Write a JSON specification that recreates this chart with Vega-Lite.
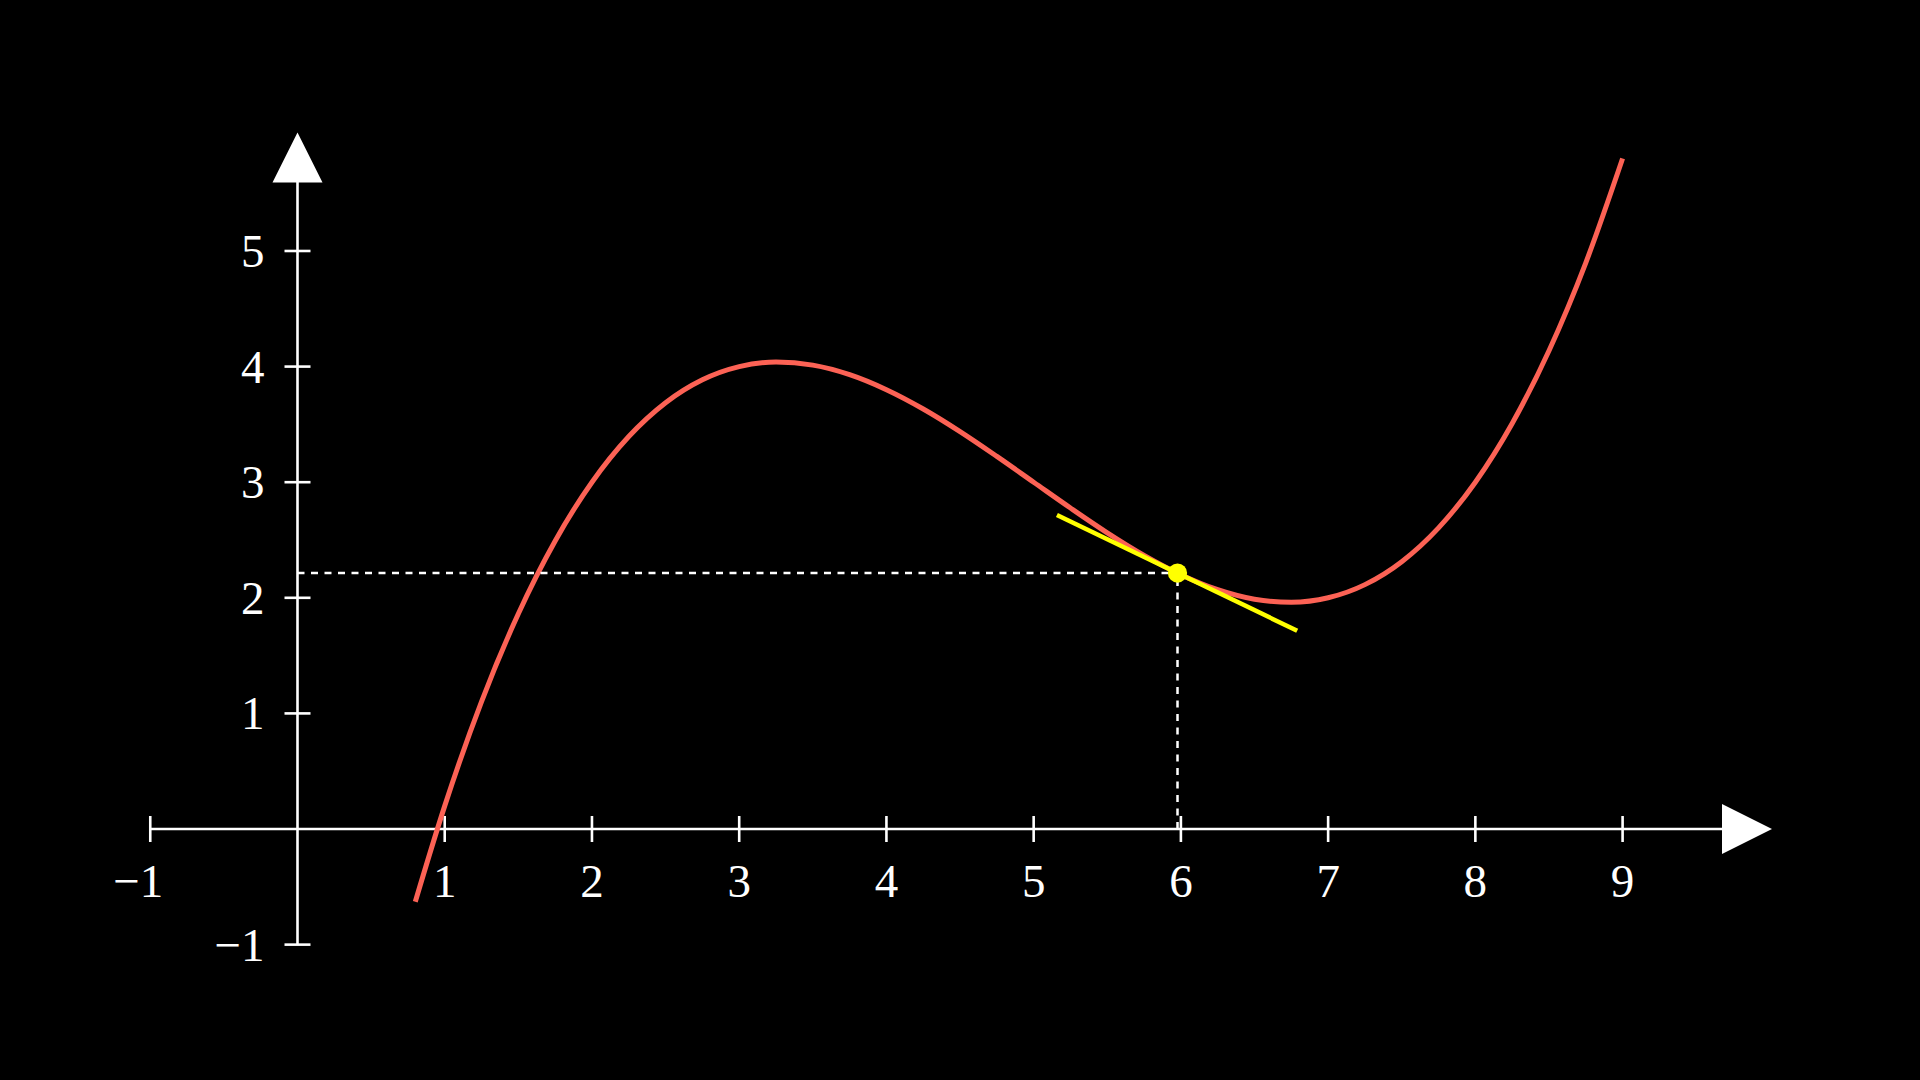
{
  "$schema": "https://vega.github.io/schema/vega-lite/v6.json",
  "width": 1920,
  "height": 1080,
  "padding": 0,
  "autosize": {"type": "none"},
  "background": "#000000",
  "config": {"view": {"stroke": null}},
  "datasets": {
    "curve": [
      {"x": 0.8, "y": -0.629}, {"x": 1.0, "y": 0.2}, {"x": 1.25, "y": 1.102}, {"x": 1.5, "y": 1.8625},
      {"x": 1.75, "y": 2.492}, {"x": 2.0, "y": 3.0}, {"x": 2.25, "y": 3.395}, {"x": 2.5, "y": 3.6875},
      {"x": 2.75, "y": 3.886}, {"x": 3.0, "y": 4.0}, {"x": 3.25, "y": 4.039}, {"x": 3.5, "y": 4.0125},
      {"x": 3.75, "y": 3.930}, {"x": 4.0, "y": 3.8}, {"x": 4.25, "y": 3.633}, {"x": 4.5, "y": 3.4375},
      {"x": 4.75, "y": 3.223}, {"x": 5.0, "y": 3.0}, {"x": 5.25, "y": 2.777}, {"x": 5.5, "y": 2.5625},
      {"x": 5.75, "y": 2.367}, {"x": 6.0, "y": 2.2}, {"x": 6.25, "y": 2.070}, {"x": 6.5, "y": 1.9875},
      {"x": 6.75, "y": 1.961}, {"x": 7.0, "y": 2.0}, {"x": 7.25, "y": 2.114}, {"x": 7.5, "y": 2.3125},
      {"x": 7.75, "y": 2.605}, {"x": 8.0, "y": 3.0}, {"x": 8.25, "y": 3.508}, {"x": 8.5, "y": 4.1375},
      {"x": 8.75, "y": 4.898}, {"x": 9.0, "y": 5.8}
    ],
    "axes": [
      {"x": -1, "x2": 9.7, "y": 0, "y2": 0},
      {"x": 0, "x2": 0, "y": -1, "y2": 5.62}
    ],
    "xticks": [
      {"x": -1, "y": 0, "label": "−1"}, {"x": 1, "y": 0, "label": "1"}, {"x": 2, "y": 0, "label": "2"},
      {"x": 3, "y": 0, "label": "3"}, {"x": 4, "y": 0, "label": "4"}, {"x": 5, "y": 0, "label": "5"},
      {"x": 6, "y": 0, "label": "6"}, {"x": 7, "y": 0, "label": "7"}, {"x": 8, "y": 0, "label": "8"},
      {"x": 9, "y": 0, "label": "9"}
    ],
    "yticks": [
      {"x": 0, "y": -1, "label": "−1"}, {"x": 0, "y": 1, "label": "1"}, {"x": 0, "y": 2, "label": "2"},
      {"x": 0, "y": 3, "label": "3"}, {"x": 0, "y": 4, "label": "4"}, {"x": 0, "y": 5, "label": "5"}
    ],
    "guides": [
      {"x": 0, "x2": 5.977, "y": 2.214, "y2": 2.214},
      {"x": 5.977, "x2": 5.977, "y": 0, "y2": 2.214}
    ],
    "tangent": [
      {"x": 5.158, "x2": 6.79, "y": 2.717, "y2": 1.715}
    ],
    "point": [{"x": 5.977, "y": 2.214}],
    "xarrow": [{"x": 9.845, "y": 0}],
    "yarrow": [{"x": 0, "y": 5.809}]
  },
  "encoding": {
    "x": {"field": "x", "type": "quantitative", "axis": null,
          "scale": {"domain": [-2.0206, 11.020], "nice": false, "zero": false}},
    "y": {"field": "y", "type": "quantitative", "axis": null,
          "scale": {"domain": [-2.171, 7.171], "nice": false, "zero": false}}
  },
  "layer": [
    {
      "data": {"name": "axes"},
      "mark": {"type": "rule", "color": "#ffffff", "strokeWidth": 2.6},
      "encoding": {"x2": {"field": "x2"}, "y2": {"field": "y2"}}
    },
    {
      "data": {"name": "xticks"},
      "mark": {"type": "tick", "orient": "vertical", "color": "#ffffff", "size": 26, "thickness": 2.6, "opacity": 1}
    },
    {
      "data": {"name": "yticks"},
      "mark": {"type": "tick", "orient": "horizontal", "color": "#ffffff", "size": 26, "thickness": 2.6, "opacity": 1}
    },
    {
      "data": {"name": "xarrow"},
      "mark": {"type": "point", "shape": "M-1,-1L1,0L-1,1Z", "size": 2500, "filled": true, "color": "#ffffff", "opacity": 1, "strokeWidth": 0}
    },
    {
      "data": {"name": "yarrow"},
      "mark": {"type": "point", "shape": "M0,-1L1,1L-1,1Z", "size": 2500, "filled": true, "color": "#ffffff", "opacity": 1, "strokeWidth": 0}
    },
    {
      "data": {"name": "xticks"},
      "transform": [{"filter": "datum.x > 0"}],
      "mark": {"type": "text", "color": "#ffffff", "font": "Liberation Serif", "fontSize": 47, "align": "center", "baseline": "alphabetic", "dy": 68},
      "encoding": {"text": {"field": "label"}}
    },
    {
      "data": {"name": "xticks"},
      "transform": [{"filter": "datum.x < 0"}],
      "mark": {"type": "text", "color": "#ffffff", "font": "Liberation Serif", "fontSize": 47, "align": "right", "baseline": "alphabetic", "dy": 68, "dx": 13},
      "encoding": {"text": {"field": "label"}}
    },
    {
      "data": {"name": "yticks"},
      "mark": {"type": "text", "color": "#ffffff", "font": "Liberation Serif", "fontSize": 47, "align": "right", "baseline": "alphabetic", "dx": -33, "dy": 16},
      "encoding": {"text": {"field": "label"}}
    },
    {
      "data": {"name": "curve"},
      "mark": {"type": "line", "color": "#FC6255", "strokeWidth": 5, "interpolate": "monotone", "strokeCap": "butt"}
    },
    {
      "data": {"name": "guides"},
      "mark": {"type": "rule", "color": "#ffffff", "strokeWidth": 2.5, "strokeDash": [7, 6.5]},
      "encoding": {"x2": {"field": "x2"}, "y2": {"field": "y2"}}
    },
    {
      "data": {"name": "tangent"},
      "mark": {"type": "rule", "color": "#FFFF00", "strokeWidth": 4.5},
      "encoding": {"x2": {"field": "x2"}, "y2": {"field": "y2"}}
    },
    {
      "data": {"name": "point"},
      "mark": {"type": "point", "shape": "circle", "size": 370, "filled": true, "color": "#FFFF00", "opacity": 1, "strokeWidth": 0}
    }
  ]
}
